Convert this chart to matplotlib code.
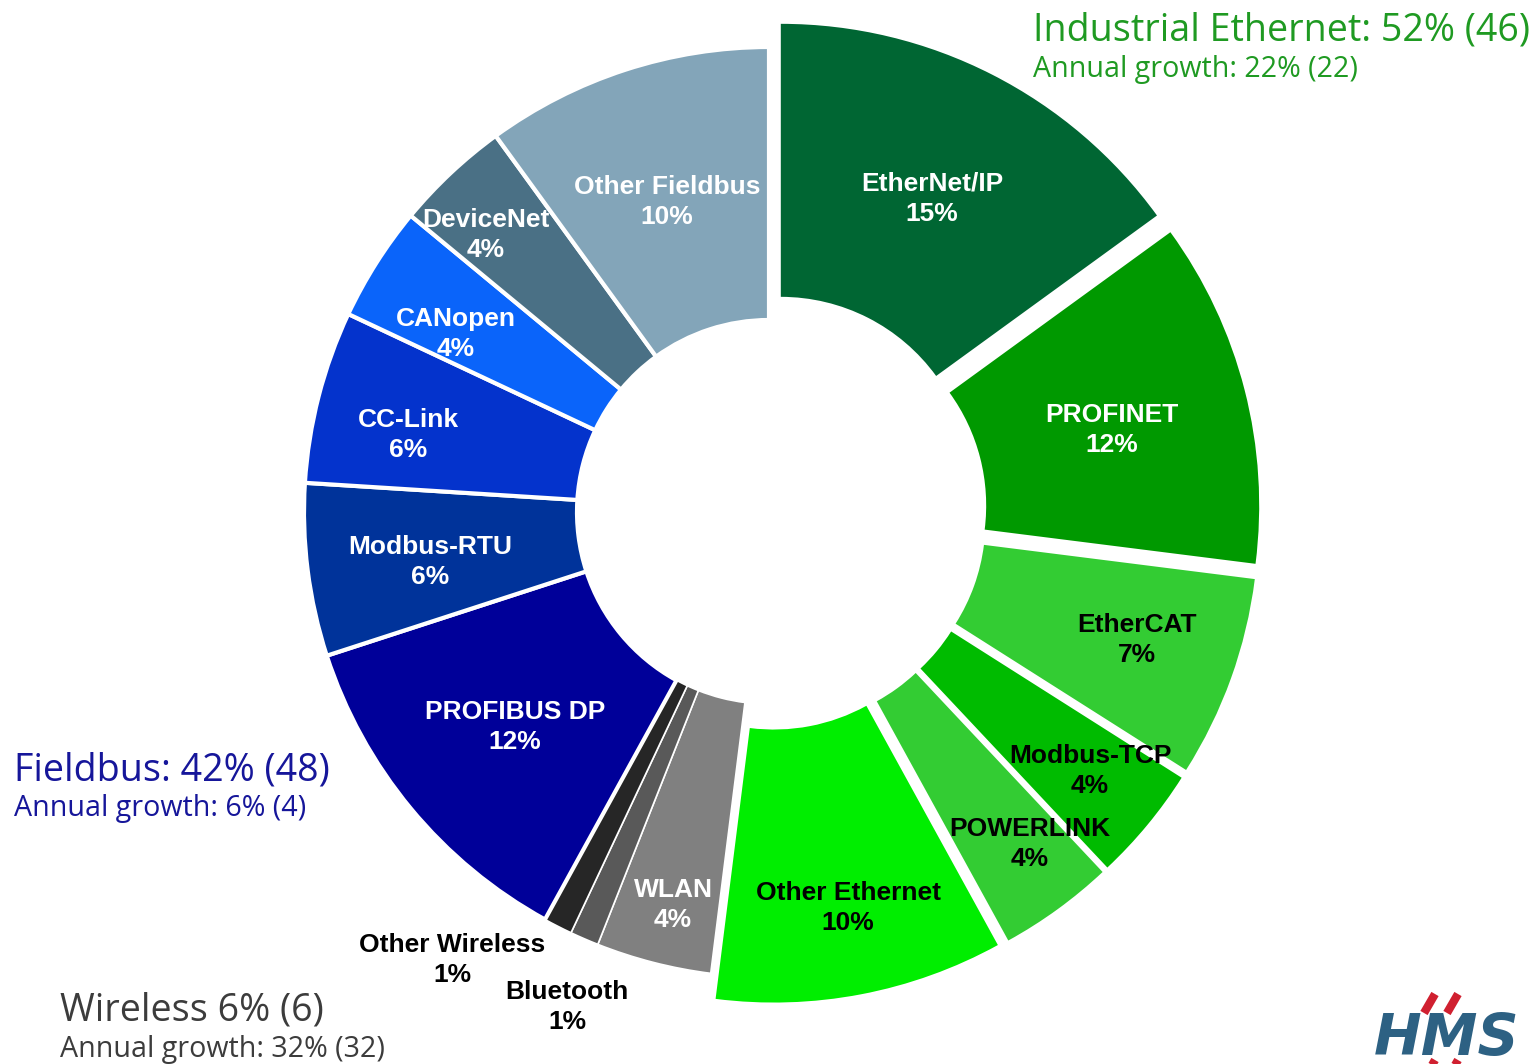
"""Industrial network market shares - donut chart (Ethernet / Fieldbus / Wireless)."""
import matplotlib
matplotlib.use("Agg")
import matplotlib.pyplot as plt
from matplotlib.lines import Line2D

# ---- data ----
networks = ["EtherNet/IP", "PROFINET", "EtherCAT", "Modbus-TCP", "POWERLINK",
            "Other Ethernet", "WLAN", "Bluetooth", "Other Wireless",
            "PROFIBUS DP", "Modbus-RTU", "CC-Link", "CANopen", "DeviceNet",
            "Other Fieldbus"]
shares = [15, 12, 7, 4, 4, 10, 4, 1, 1, 12, 6, 6, 4, 4, 10]
groups = ["eth"] * 6 + ["wls"] * 3 + ["fb"] * 6

group_titles = {
    "eth": ("Industrial Ethernet: 52% (46)", "Annual growth: 22% (22)"),
    "fb": ("Fieldbus: 42% (48)", "Annual growth: 6% (4)"),
    "wls": ("Wireless 6% (6)", "Annual growth: 32% (32)"),
}

# ---- style ----
colors = ["#006633", "#009900", "#33cc33", "#00bb00", "#33cc33", "#00ee00",
          "#808080", "#595959", "#262626",
          "#000099", "#00339a", "#0433cc", "#0a64fa", "#4a7085", "#83a5b9"]
label_colors = ["white", "white", "black", "black", "black", "black",
                "white", "black", "black",
                "white", "white", "white", "white", "white", "white"]
explode_px = {"eth": 26, "wls": 0, "fb": 0}
edge_lw = {"eth": 0.0, "wls": 1.2, "fb": 3.0}

W, H = 1537, 1064
S = 465.0               # outer radius in pixels -> 1 data unit
CX, CY = 769, 512       # centre in pixels (from top-left)
R_IN = 192


def px(x, y):
    """pixel (from top-left) -> data coords"""
    return x / S, (H - y) / S


# label centres (pixels)
label_pos = [(932, 199), (1112, 430), (1137, 640), (1090, 771), (1030, 844),
             (848, 908), (673, 905), (567, 1007), (452, 960),
             (515, 727), (430, 562), (408, 435), (456, 334), (486, 235),
             (667, 202)]

fig = plt.figure(figsize=(W / 100, H / 100), dpi=100)
ax = fig.add_axes([0, 0, 1, 1])

wedges, texts = ax.pie(
    shares,
    labels=[f"{n}\n{v}%" for n, v in zip(networks, shares)],
    colors=colors,
    explode=[explode_px[g] / S for g in groups],
    startangle=90,
    counterclock=False,
    radius=1.0,
    center=px(CX, CY),
    labeldistance=0.7,
    wedgeprops=dict(width=(S - R_IN) / S, edgecolor="white"),
    textprops=dict(ha="center", va="center", fontsize=19,
                   fontweight="bold", family="Liberation Sans",
                   linespacing=1.36),
)
for w, g in zip(wedges, groups):
    w.set_linewidth(edge_lw[g])
    w.set_joinstyle("miter")
for t, c, p in zip(texts, label_colors, label_pos):
    t.set_color(c)
    t.set_position(px(*p))

ax.set_xlim(0, W / S)
ax.set_ylim(0, H / S)
ax.set_aspect("equal")
ax.axis("off")

# ---- group headings ----
title_style = {
    "eth": dict(x=1033, y1=40, y2=77, color="#1f9a22"),
    "fb": dict(x=14, y1=780, y2=816, color="#16169a"),
    "wls": dict(x=60, y1=1020, y2=1057, color="#3c3c3c"),
}
for g, (big, small) in group_titles.items():
    st = title_style[g]
    ax.text(*px(st["x"], st["y1"]), big, fontsize=27.1, family="Open Sans",
            color=st["color"], ha="left", va="baseline")
    ax.text(*px(st["x"], st["y2"]), small, fontsize=20.6, family="Open Sans",
            color=st["color"], ha="left", va="baseline")

# ---- HMS logo ----
ax.text(*px(1447, 1055), "HMS", fontsize=41, fontweight="bold",
        fontstyle="italic", family="DejaVu Sans", color="#2d6183",
        ha="center", va="baseline")
for x0 in (1424, 1447):
    for y0 in (994, 1060):
        ax.add_line(Line2D([px(x0, y0 + 19)[0], px(x0 + 11, y0)[0]],
                           [px(x0, y0 + 19)[1], px(x0 + 11, y0)[1]],
                           color="#d02030", lw=6, solid_capstyle="butt"))

fig.savefig("out.png", dpi=100)
